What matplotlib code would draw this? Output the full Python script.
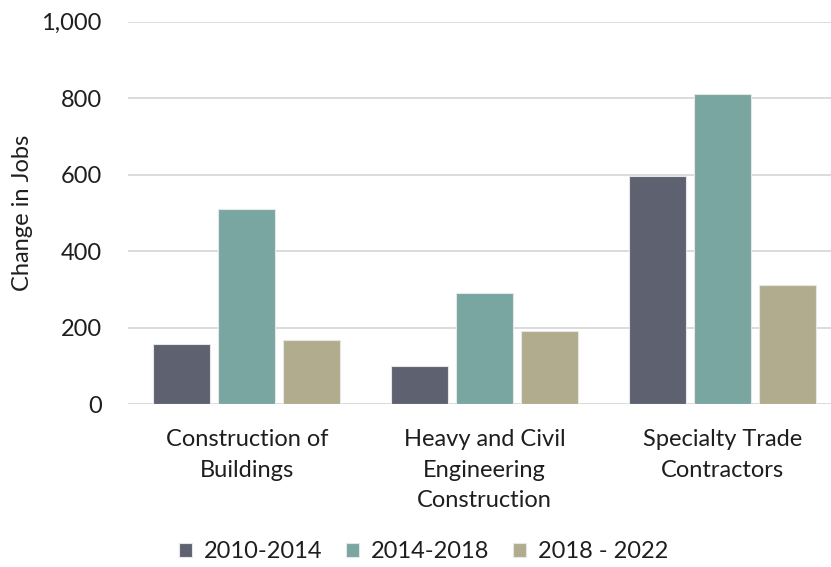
import matplotlib
matplotlib.use("Agg")
import matplotlib.pyplot as plt
import numpy as np
from matplotlib.ticker import FuncFormatter

categories = ["Construction of\nBuildings", "Heavy and Civil\nEngineering\nConstruction", "Specialty Trade\nContractors"]
series_names = ["2010-2014", "2014-2018", "2018 - 2022"]
v_2010_2014 = [157, 100, 597]
v_2014_2018 = [510, 290, 811]
v_2018_2022 = [167, 192, 312]
colors = ["#5E6170", "#79A6A1", "#B1AC8D"]

plt.rcParams['font.family'] = ['Lato', 'DejaVu Sans']
txt = "#1E1E1E"

fig = plt.figure(figsize=(8.31, 5.67), dpi=100)
ax = fig.add_axes([128/831, (567-404.3)/567, (841-128)/831, (404.3-21.8)/567])

x = np.arange(len(categories))
w = 0.24
step = 0.273
for i, (vals, name) in enumerate(zip([v_2010_2014, v_2014_2018, v_2018_2022], series_names)):
    ax.bar(x + (i-1)*step, vals, width=w, color=colors[i], label=name,
           edgecolor="#E6E6E6", linewidth=0.8, zorder=3)

ax.set_xlim(-0.5, 2.5)
ax.set_ylim(0, 1000)
ax.set_yticks(range(0, 1001, 200))
ax.yaxis.set_major_formatter(FuncFormatter(lambda v, p: f"{int(v):,}"))
ax.grid(axis='y', color="#D9D9D9", linewidth=1.3, zorder=0)
for s in ax.spines.values():
    s.set_visible(False)
ax.tick_params(axis='y', length=0, labelsize=17, colors=txt, pad=19)
ax.tick_params(axis='x', length=0, labelsize=17, colors=txt, pad=18)
ax.set_xticks(x)
ax.set_xticklabels(categories, linespacing=1.55, va='top')
ax.set_ylabel("Change in Jobs", fontsize=17, color=txt, labelpad=6)

leg = fig.legend(loc='center', bbox_to_anchor=(0.51, (567-552)/567), ncol=3,
                 frameon=False, fontsize=17, handlelength=0.55, handleheight=0.55,
                 columnspacing=1.0, handletextpad=0.5)
for t in leg.get_texts():
    t.set_color(txt)

fig.savefig("out.png", dpi=100)
